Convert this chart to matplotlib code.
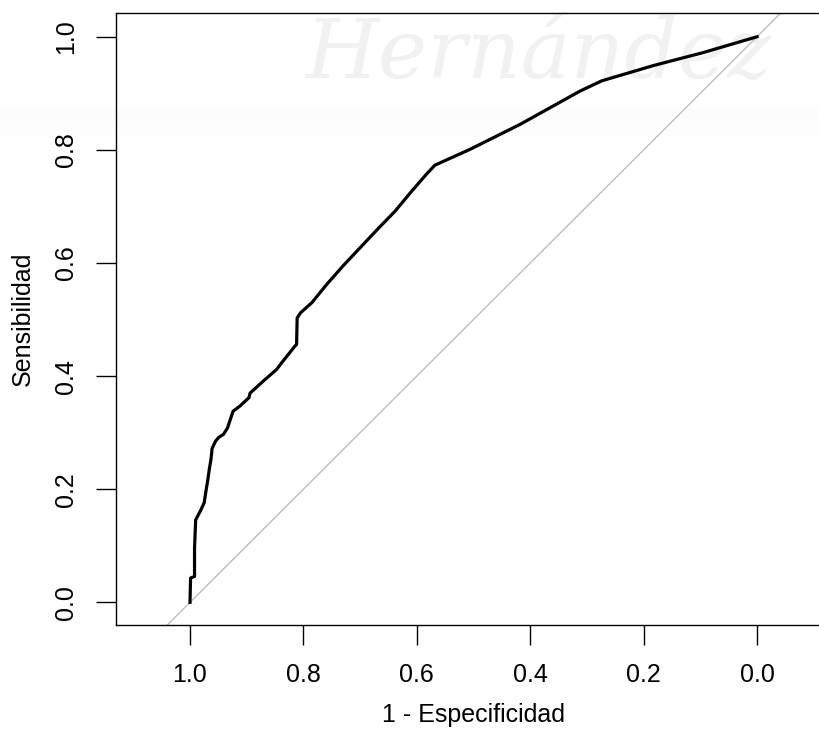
import matplotlib.pyplot as plt
import numpy as np

# datos de la curva ROC (especificidad, sensibilidad)
especificidad = [1.000, 0.999, 0.992, 0.992, 0.990, 0.982, 0.975, 0.972, 0.969, 0.966,
                 0.963, 0.961, 0.955, 0.949, 0.941, 0.934, 0.929, 0.924, 0.912, 0.896,
                 0.894, 0.871, 0.847, 0.838, 0.815, 0.812, 0.811, 0.805, 0.785, 0.759,
                 0.730, 0.700, 0.668, 0.638, 0.609, 0.583, 0.568, 0.506, 0.418, 0.312,
                 0.274, 0.183, 0.095, 0.000]
sensibilidad = [0.000, 0.043, 0.046, 0.096, 0.146, 0.161, 0.176, 0.196, 0.214, 0.235,
                0.253, 0.272, 0.285, 0.292, 0.297, 0.308, 0.323, 0.338, 0.347, 0.362,
                0.370, 0.391, 0.412, 0.424, 0.453, 0.456, 0.503, 0.512, 0.530, 0.562,
                0.595, 0.627, 0.661, 0.692, 0.727, 0.757, 0.773, 0.801, 0.845, 0.904,
                0.922, 0.949, 0.972, 1.000]
ticks = [1.0, 0.8, 0.6, 0.4, 0.2, 0.0]

plt.rcParams['font.family'] = ['Liberation Sans', 'DejaVu Sans']

W, H = 819, 736
fig = plt.figure(figsize=(W / 100, H / 100), dpi=100)

# marca de agua de fondo (ejes propios, debajo de todo)
bg = fig.add_axes([0, 0, 1, 1], zorder=0)
bg.set_xlim(0, W)
bg.set_ylim(H, 0)
bg.axis('off')
band = np.linspace(1, 0, 50).reshape(-1, 1)
bg.imshow(band, extent=[0, W, 140, 108], aspect='auto', cmap='Greys', vmin=0, vmax=25, alpha=0.6)
bg.text(305, 78, "Hernández", fontsize=60, family='DejaVu Serif', style='italic',
        color='#f1f1f1', ha='left', va='baseline')
bg.set_xlim(0, W)
bg.set_ylim(H, 0)

# ejes: left 116, right 831 (fuera de la imagen), top 13, bottom 625
ax = fig.add_axes([116 / W, (H - 625) / H, 715 / W, 612 / H], zorder=2)
ax.patch.set_alpha(0)

ax.plot([1.04, -0.04], [-0.04, 1.04], color='#bebebe', lw=1)
ax.plot(especificidad, sensibilidad, color='black', lw=2.3)

ax.set_xlim(1.1305, -0.1305)
ax.set_ylim(-0.04, 1.042)
ax.set_xticks(ticks)
ax.set_yticks(ticks)
ax.set_xticklabels(["{:.1f}".format(t) for t in ticks])
ax.set_yticklabels(["{:.1f}".format(t) for t in ticks], rotation=90, va='center')
ax.tick_params(length=14.5, width=1, labelsize=18, pad=13)
for s in ax.spines.values():
    s.set_linewidth(1)

ax.set_xlabel("1 - Especificidad", fontsize=18)
ax.set_ylabel("Sensibilidad", fontsize=18)
ax.xaxis.set_label_coords(0.5, -0.128)
ax.yaxis.set_label_coords(-0.113, 0.5)

fig.savefig("out.png", dpi=100)
